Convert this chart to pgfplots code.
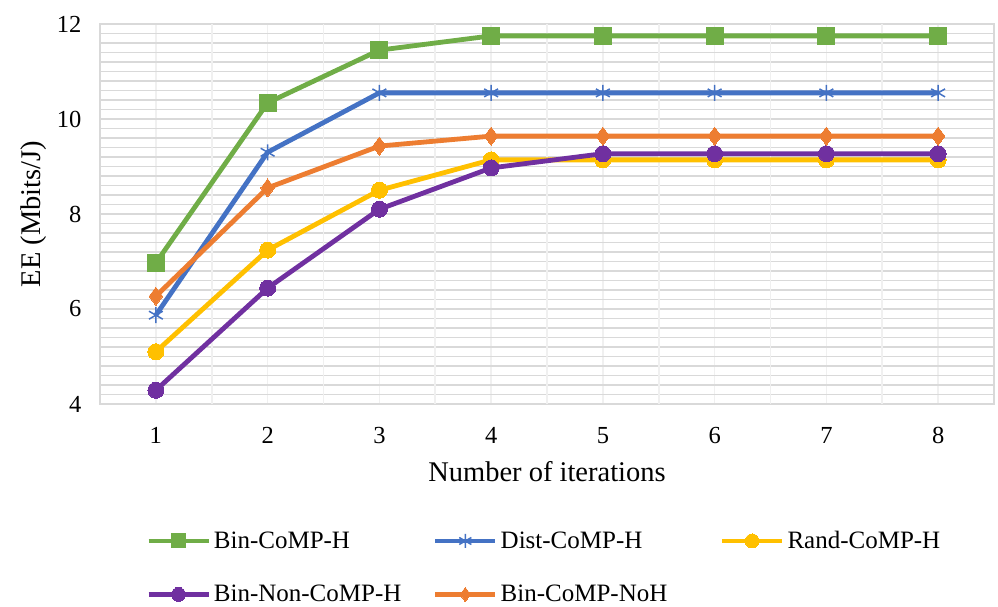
\documentclass[border=0pt]{standalone}
\usepackage{pgfplots}
\pgfplotsset{compat=1.18}
\usepackage{fontspec}
\setmainfont{Liberation Serif}
\definecolor{cgreen}{HTML}{70AD47}
\definecolor{cblue}{HTML}{4472C4}
\definecolor{cyellow}{HTML}{FFC000}
\definecolor{cpurple}{HTML}{7030A0}
\definecolor{corange}{HTML}{ED7D31}
\definecolor{gmaj}{HTML}{D9D9D9}
\definecolor{gmin}{HTML}{F0F0F0}
\begin{document}
\begin{tikzpicture}
\useasboundingbox (-100pt,-202pt) rectangle (898pt,404pt);
\begin{axis}[
  at={(0pt,0pt)}, anchor=south west,
  scale only axis, width=894pt, height=380pt,
  xmin=0.5, xmax=8.5, ymin=4, ymax=12,
  xtick={1,...,8}, ytick={4,6,...,12},
  minor y tick num=9,
  extra x ticks={1.5,2.5,...,7.5},
  extra x tick labels={},
  xmajorgrids, ymajorgrids, yminorgrids,
  major grid style={draw=gmin, line width=1.6pt},
  minor grid style={draw=gmin, line width=1.6pt},
  every extra x tick/.style={grid style={draw=gmaj, line width=1.6pt}},
  y grid style={draw=gmaj},
  axis line style={draw=gmaj, line width=1.6pt},
  major tick length=0pt, minor tick length=0pt,
  tick label style={font=\fontsize{24.5}{28}\selectfont},
  /pgf/number format/assume math mode=true,
  xticklabel style={yshift=-20pt},
  yticklabel style={xshift=-15pt},
  xlabel={Number of iterations},
  ylabel={EE (Mbits/J)},
  label style={font=\fontsize{28.5}{32}\selectfont},
  xlabel style={yshift=-10pt},
  ylabel style={yshift=4pt},
  legend columns=3,
  legend style={at={(0.048,-0.322)}, anchor=north west, draw=none, fill=none,
    font=\fontsize{25}{29}\selectfont,
    nodes={text width=208pt, inner sep=3pt},
    /tikz/every even column/.append style={column sep=8pt},
    row sep=29pt},
  legend cell align=left,
  legend image code/.code={\draw[mark repeat=2,mark phase=2,#1,mark size=7pt] plot coordinates {(0pt,0pt) (30pt,0pt) (60pt,0pt)};},
  every axis plot/.append style={line width=4.8pt},
]
\addplot[cgreen, mark=square*, mark size=8.5pt, mark options={solid, line width=0pt}]
  coordinates {(1,6.97) (2,10.34) (3,11.45) (4,11.75) (5,11.75) (6,11.75) (7,11.75) (8,11.75)};
\addlegendentry{Bin-CoMP-H}
\addplot[cblue, mark=asterisk, mark size=8pt, mark options={solid, line width=1.5pt}]
  coordinates {(1,5.87) (2,9.30) (3,10.55) (4,10.55) (5,10.55) (6,10.55) (7,10.55) (8,10.55)};
\addlegendentry{Dist-CoMP-H}
\addplot[cyellow, mark=*, mark size=8pt, mark options={solid, line width=0pt}]
  coordinates {(1,5.10) (2,7.24) (3,8.50) (4,9.14) (5,9.14) (6,9.14) (7,9.14) (8,9.14)};
\addlegendentry{Rand-CoMP-H}
\addplot[cpurple, mark=*, mark size=8pt, mark options={solid, line width=0pt}]
  coordinates {(1,4.29) (2,6.44) (3,8.10) (4,8.97) (5,9.27) (6,9.27) (7,9.27) (8,9.27)};
\addlegendentry{Bin-Non-CoMP-H}
\addplot[corange, mark=diamond*, mark size=9pt, mark options={solid, line width=0pt}]
  coordinates {(1,6.27) (2,8.55) (3,9.43) (4,9.64) (5,9.64) (6,9.64) (7,9.64) (8,9.64)};
\addlegendentry{Bin-CoMP-NoH}
\end{axis}
\end{tikzpicture}
\end{document}
